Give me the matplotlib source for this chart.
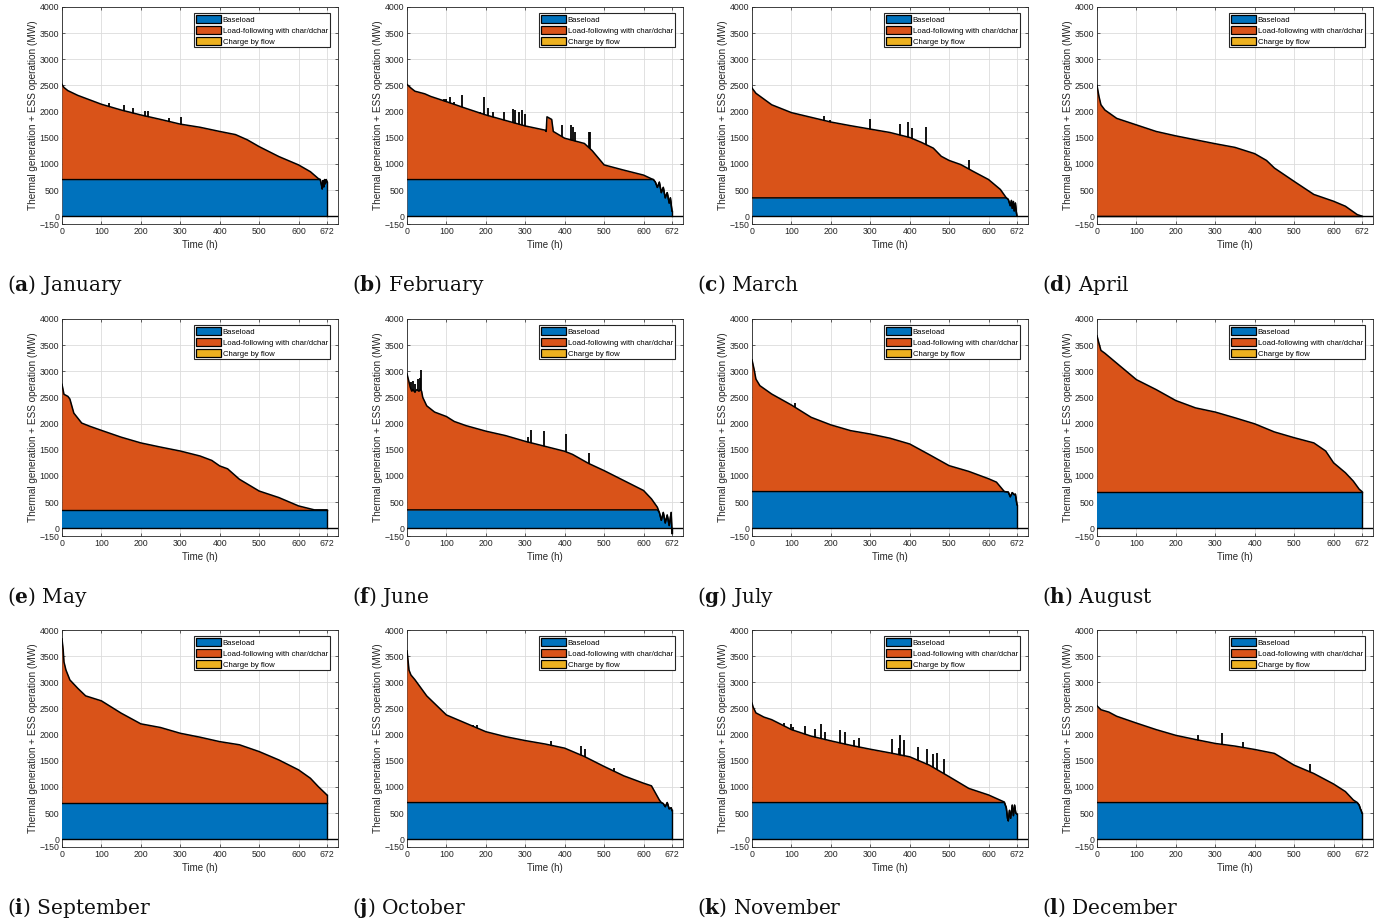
import numpy as np
import matplotlib
matplotlib.use("Agg")
import matplotlib.pyplot as plt
from matplotlib.patches import Patch

# Monthly duration curves of thermal generation + ESS operation (MW),
# read off the reference figure: breakpoints (hour, MW), baseload level,
# and the short one-hour spikes that stick out above the curve.
JAN_H = [0, 5, 15, 40, 100, 150, 200, 250, 300, 350, 400, 440, 470, 500, 550, 600, 630, 650, 655,
         658, 660, 662, 664, 666, 668, 670, 672]
JAN_MW = [2520, 2460, 2400, 2310, 2140, 2030, 1935, 1850, 1760, 1700, 1620, 1560, 1460, 1330, 1140, 980, 850, 720, 700,
          600, 520, 680, 560, 700, 620, 700, 660]
JAN_BASE = 700
JAN_SPK_H = [120, 158, 181, 211, 219, 271, 302]
JAN_SPK_MW = [2160, 2120, 2060, 2010, 2010, 1870, 1900]

FEB_H = [0, 10, 20, 45, 60, 100, 150, 200, 250, 300, 350, 353, 355, 367, 371, 400, 450, 470, 500, 550, 600, 620,
         625, 630, 635, 640, 645, 650, 655, 660, 665, 668, 672]
FEB_MW = [2520, 2450, 2390, 2340, 2290, 2190, 2060, 1935, 1830, 1725, 1645, 1620, 1900, 1850, 1620, 1490, 1390, 1250, 980, 880, 785, 715,
          700, 650, 550, 650, 450, 550, 350, 450, 250, 350, 100]
FEB_BASE = 700
FEB_SPK_H = [95, 99, 108, 120, 140, 186, 195, 206, 217, 247, 270, 274, 283, 292, 300, 393, 415, 420, 426, 462, 465]
FEB_SPK_MW = [2250, 2250, 2270, 2180, 2310, 2000, 2280, 2060, 1990, 2000, 2050, 2030, 1990, 2030, 1950, 1750, 1750, 1700, 1600, 1600, 1600]

MAR_H = [0, 10, 50, 100, 150, 200, 250, 300, 350, 400, 430, 460, 480, 500, 530, 560, 600, 630, 645,
         650, 655, 658, 660, 663, 665, 668, 670, 672]
MAR_MW = [2450, 2350, 2130, 1980, 1890, 1800, 1730, 1665, 1600, 1505, 1410, 1300, 1145, 1065, 985, 860, 700, 510, 350,
          320, 200, 300, 150, 280, 100, 250, 100, 0]
MAR_BASE = 350
MAR_SPK_H = [183, 198, 299, 376, 396, 407, 442, 550]
MAR_SPK_MW = [1920, 1840, 1860, 1770, 1810, 1680, 1700, 1080]

APR_H = [0, 5, 10, 20, 50, 100, 150, 200, 250, 300, 350, 400, 430, 450, 500, 550, 600, 630, 660, 672]
APR_MW = [2500, 2290, 2130, 2030, 1870, 1745, 1620, 1535, 1460, 1385, 1315, 1195, 1065, 920, 665, 415, 285, 190, 30, 0]
APR_BASE = 0
APR_SPK_H = []
APR_SPK_MW = []

MAY_H = [0, 5, 15, 20, 30, 50, 70, 100, 150, 200, 250, 300, 350, 380, 400, 420, 450, 500, 550, 600, 640, 672]
MAY_MW = [2750, 2560, 2520, 2470, 2200, 2010, 1950, 1870, 1740, 1630, 1550, 1475, 1380, 1295, 1190, 1135, 935, 710, 585, 425, 350, 350]
MAY_BASE = 350
MAY_SPK_H = []
MAY_SPK_MW = []

JUN_H = [0, 5, 8, 12, 15, 20, 25, 30, 34, 37, 40, 50, 70, 100, 120, 150, 200, 250, 300, 350, 400, 420, 460, 500,
         550, 600, 620, 635, 640, 645, 650, 655, 660, 665, 670, 672]
JUN_MW = [2950, 2800, 2700, 2620, 2650, 2600, 2650, 2620, 2650, 2620, 2500, 2340, 2220, 2135, 2040, 1960, 1855, 1770, 1660, 1565, 1470, 1410, 1240, 1100,
          910, 720, 560, 400, 300, 150, 300, 100, 250, 50, 300, -100]
JUN_BASE = 350
JUN_SPK_H = [10, 15, 20, 27, 32, 35, 307, 314, 347, 403, 462]
JUN_SPK_MW = [2800, 2820, 2750, 2850, 2880, 3030, 1750, 1880, 1850, 1800, 1430]

JUL_H = [0, 5, 10, 20, 50, 100, 150, 200, 250, 300, 350, 400, 450, 500, 550, 600, 620, 640, 650, 655, 660, 665, 668, 672]
JUL_MW = [3220, 3050, 2850, 2725, 2565, 2355, 2120, 1975, 1865, 1800, 1720, 1610, 1405, 1195, 1085, 945, 880, 700, 690, 600, 680, 640, 650, 450]
JUL_BASE = 700
JUL_SPK_H = [108]
JUL_SPK_MW = [2400]

AUG_H = [0, 5, 10, 20, 50, 100, 150, 200, 250, 300, 350, 400, 450, 500, 550, 580, 600, 630, 650, 665, 672]
AUG_MW = [3680, 3535, 3400, 3345, 3155, 2840, 2650, 2440, 2300, 2220, 2110, 1995, 1840, 1730, 1630, 1475, 1250, 1060, 900, 745, 700]
AUG_BASE = 700
AUG_SPK_H = []
AUG_SPK_MW = []

SEP_H = [0, 3, 5, 10, 20, 40, 60, 100, 150, 200, 250, 300, 350, 400, 450, 500, 550, 600, 630, 650, 672]
SEP_MW = [3830, 3620, 3390, 3235, 3045, 2885, 2740, 2645, 2410, 2205, 2135, 2025, 1950, 1865, 1805, 1675, 1515, 1325, 1165, 1005, 845]
SEP_BASE = 700
SEP_SPK_H = []
SEP_SPK_MW = []

OCT_H = [0, 3, 5, 10, 20, 50, 100, 150, 200, 250, 300, 350, 400, 450, 500, 550, 600, 620, 640,
         645, 650, 655, 660, 665, 670, 672]
OCT_MW = [3600, 3395, 3235, 3140, 3050, 2740, 2375, 2215, 2055, 1960, 1885, 1820, 1740, 1580, 1390, 1210, 1070, 1020, 750,
          700, 680, 620, 700, 580, 600, 550]
OCT_BASE = 700
OCT_SPK_H = [167, 178, 365, 442, 451, 525]
OCT_SPK_MW = [2180, 2180, 1870, 1790, 1720, 1370]

NOV_H = [0, 3, 10, 30, 50, 100, 150, 200, 250, 300, 350, 400, 450, 500, 550, 600, 640,
         645, 648, 650, 653, 656, 660, 663, 666, 669, 672]
NOV_MW = [2600, 2525, 2415, 2335, 2285, 2095, 1970, 1880, 1795, 1720, 1650, 1575, 1415, 1195, 970, 845, 710,
          600, 400, 350, 550, 400, 650, 450, 650, 500, 480]
NOV_BASE = 700
NOV_SPK_H = [82, 100, 103, 135, 161, 175, 184, 224, 236, 259, 271, 354, 374, 376, 385, 420, 445, 458, 470, 488]
NOV_SPK_MW = [2230, 2200, 2150, 2160, 2100, 2200, 2050, 2090, 2050, 1900, 1930, 1920, 1750, 2000, 1900, 1770, 1730, 1620, 1650, 1530]

DEC_H = [0, 10, 30, 50, 100, 150, 200, 250, 300, 350, 400, 450, 500, 550, 600, 630, 650, 660, 665, 668, 670, 672]
DEC_MW = [2550, 2475, 2430, 2350, 2220, 2095, 1985, 1905, 1830, 1780, 1715, 1640, 1415, 1255, 1055, 910, 750, 700, 650, 580, 550, 500]
DEC_BASE = 700
DEC_SPK_H = [257, 317, 370, 539]
DEC_SPK_MW = [1990, 2030, 1850, 1430]

CAPTIONS = ["(a) January", "(b) February", "(c) March", "(d) April", "(e) May", "(f) June",
            "(g) July", "(h) August", "(i) September", "(j) October", "(k) November", "(l) December"]
X_TICKS = [0, 100, 200, 300, 400, 500, 600, 672]
Y_TICKS = [-150, 0, 500, 1000, 1500, 2000, 2500, 3000, 3500, 4000]
LEGEND_LABELS = ["Baseload", "Load-following with char/dchar", "Charge by flow"]

MONTHS = [
    (JAN_H, JAN_MW, JAN_BASE, JAN_SPK_H, JAN_SPK_MW),
    (FEB_H, FEB_MW, FEB_BASE, FEB_SPK_H, FEB_SPK_MW),
    (MAR_H, MAR_MW, MAR_BASE, MAR_SPK_H, MAR_SPK_MW),
    (APR_H, APR_MW, APR_BASE, APR_SPK_H, APR_SPK_MW),
    (MAY_H, MAY_MW, MAY_BASE, MAY_SPK_H, MAY_SPK_MW),
    (JUN_H, JUN_MW, JUN_BASE, JUN_SPK_H, JUN_SPK_MW),
    (JUL_H, JUL_MW, JUL_BASE, JUL_SPK_H, JUL_SPK_MW),
    (AUG_H, AUG_MW, AUG_BASE, AUG_SPK_H, AUG_SPK_MW),
    (SEP_H, SEP_MW, SEP_BASE, SEP_SPK_H, SEP_SPK_MW),
    (OCT_H, OCT_MW, OCT_BASE, OCT_SPK_H, OCT_SPK_MW),
    (NOV_H, NOV_MW, NOV_BASE, NOV_SPK_H, NOV_SPK_MW),
    (DEC_H, DEC_MW, DEC_BASE, DEC_SPK_H, DEC_SPK_MW),
]

BLUE = "#0072BD"
ORANGE = "#D95319"
YELLOW = "#EDB120"
AXC = "#262626"

plt.rcParams["font.family"] = ["Liberation Sans", "DejaVu Sans"]
plt.rcParams["mathtext.fontset"] = "dejavuserif"

W, H = 1381, 924
COL_X = [62, 407, 752, 1097]
ROW_BOTTOM = [224, 536, 847]
CAP_BASE = [291, 603, 914]
AX_W, AX_H = 276, 217

fig = plt.figure(figsize=(W / 100, H / 100), dpi=100)
fig.patch.set_facecolor("white")

for i, (hrs, mw, base, sh, sv) in enumerate(MONTHS):
    r, c = divmod(i, 4)
    ax = fig.add_axes([COL_X[c] / W, 1 - ROW_BOTTOM[r] / H, AX_W / W, AX_H / H])
    hrs = np.asarray(hrs, float)
    mw = np.asarray(mw, float)
    low = np.minimum(mw, base)

    # spikes sit under the fills so only the part above the curve shows
    if sh:
        ax.vlines(sh, 0, sv, color="k", lw=1.3, zorder=2)
    ax.fill_between(hrs, 0, mw, color=ORANGE, lw=0, zorder=3)
    ax.fill_between(hrs, 0, low, color=BLUE, lw=0, zorder=3.1)
    ax.plot(hrs, mw, color="k", lw=1.1, zorder=4)
    ax.plot(hrs, low, color="k", lw=1.0, zorder=4)
    ax.plot([hrs[-1], hrs[-1]], [0, mw[-1]], color="k", lw=1.0, zorder=4)
    ax.axhline(0, color="k", lw=1.0, zorder=4)

    ax.set_xlim(0, 700)
    ax.set_ylim(-150, 4000)
    ax.set_xticks(X_TICKS)
    ax.set_yticks(Y_TICKS)
    ax.tick_params(direction="in", top=True, right=True, length=2.5, width=0.5,
                   labelsize=6.3, colors=AXC, pad=2)
    ax.grid(True, color="#dcdcdc", lw=0.6, zorder=0)
    ax.set_axisbelow(True)
    for s in ax.spines.values():
        s.set_color(AXC)
        s.set_linewidth(0.6)
    ax.set_xlabel("Time (h)", fontsize=7.0, color=AXC, labelpad=3)
    ax.set_ylabel("Thermal generation + ESS operation (MW)", fontsize=7.2, color=AXC, labelpad=1)

    handles = [Patch(facecolor=col, edgecolor="k", lw=0.9) for col in (BLUE, ORANGE, YELLOW)]
    leg = ax.legend(handles, LEGEND_LABELS, loc="upper right", bbox_to_anchor=(0.971, 0.972),
                    fontsize=5.6, frameon=True, fancybox=False, framealpha=1, edgecolor=AXC,
                    handlelength=3.2, handleheight=1.2, handletextpad=0.2, labelspacing=0.3,
                    borderpad=0.25, borderaxespad=0)
    leg.get_frame().set_linewidth(0.8)
    leg.set_zorder(6)

    lbl, rest = CAPTIONS[i][1], CAPTIONS[i][3:]
    fig.text((7 + 345 * c) / W, 1 - CAP_BASE[r] / H, r"($\mathbf{%s}$)%s" % (lbl, rest),
             family="DejaVu Serif", fontsize=14.5, va="baseline", ha="left", color="#111111")

fig.savefig("out.png", dpi=100, facecolor="white")
